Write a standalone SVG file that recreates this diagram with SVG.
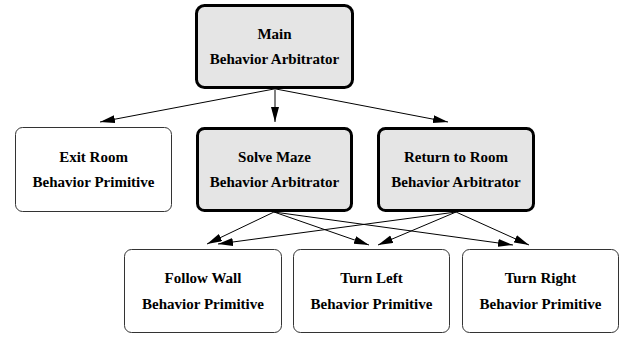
<svg xmlns="http://www.w3.org/2000/svg" width="624" height="338" viewBox="0 0 624 338">
<style>
.arb{fill:#e5e5e5;stroke:#000;stroke-width:3}
.prim{fill:#fff;stroke:#333;stroke-width:1}
text{font-family:"Liberation Serif","Times New Roman",serif;font-weight:bold;font-size:15px;text-anchor:middle;fill:#000}
.edge{stroke:#000;stroke-width:1;fill:none;marker-end:url(#ah)}
</style>
<defs>
<marker id="ah" markerUnits="userSpaceOnUse" markerWidth="16" markerHeight="9" refX="15" refY="4" orient="auto">
<path d="M0,0 L15,4 L0,8 z" fill="#000"/>
</marker>
</defs>
<g id="connectors">
<line class="edge" x1="274" y1="89" x2="100" y2="122"/>
<line class="edge" x1="275" y1="89" x2="275" y2="122"/>
<line class="edge" x1="276" y1="89" x2="448" y2="122"/>
<line class="edge" x1="274" y1="212" x2="207" y2="244"/>
<line class="edge" x1="274" y1="212" x2="369" y2="245"/>
<line class="edge" x1="274" y1="212" x2="513" y2="245"/>
<line class="edge" x1="456" y1="212" x2="218" y2="244"/>
<line class="edge" x1="456" y1="212" x2="378" y2="245"/>
<line class="edge" x1="456" y1="212" x2="529" y2="245"/>
</g>
<g id="main">
<rect class="arb" x="196.5" y="5.5" width="156" height="82" rx="8"/>
<text x="274.5" y="39">Main</text>
<text x="274.5" y="64">Behavior Arbitrator</text>
</g>
<g id="exit-room">
<rect class="prim" x="15.5" y="127.5" width="156" height="84" rx="7"/>
<text x="93.5" y="162">Exit Room</text>
<text x="93.5" y="187">Behavior Primitive</text>
</g>
<g id="solve-maze">
<rect class="arb" x="197.5" y="128.5" width="154" height="82" rx="7"/>
<text x="274.5" y="162">Solve Maze</text>
<text x="274.5" y="187">Behavior Arbitrator</text>
</g>
<g id="return-to-room">
<rect class="arb" x="378.5" y="128.5" width="155" height="82" rx="7"/>
<text x="456" y="162">Return to Room</text>
<text x="456" y="187">Behavior Arbitrator</text>
</g>
<g id="follow-wall">
<rect class="prim" x="124.5" y="249.5" width="157" height="83" rx="7"/>
<text x="203" y="283">Follow Wall</text>
<text x="203" y="309">Behavior Primitive</text>
</g>
<g id="turn-left">
<rect class="prim" x="293.5" y="249.5" width="156" height="83" rx="7"/>
<text x="371.5" y="283">Turn Left</text>
<text x="371.5" y="309">Behavior Primitive</text>
</g>
<g id="turn-right">
<rect class="prim" x="462.5" y="249.5" width="156" height="83" rx="7"/>
<text x="540.5" y="283">Turn Right</text>
<text x="540.5" y="309">Behavior Primitive</text>
</g>
</svg>
